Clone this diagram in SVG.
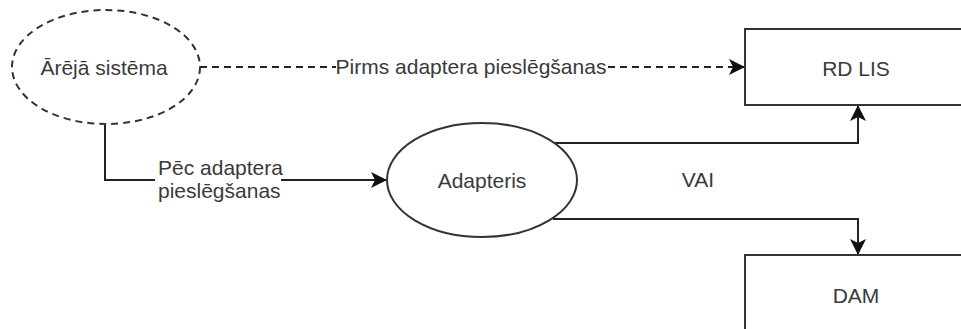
<svg xmlns="http://www.w3.org/2000/svg" width="961" height="329" viewBox="0 0 961 329">
  <style>
    .shape { fill: #ffffff; stroke: #333333; stroke-width: 2; }
    .dashed { stroke-dasharray: 7 5; }
    .edge { fill: none; stroke: #222222; stroke-width: 2; }
    .label { font-family: "Liberation Sans", Arial, sans-serif; font-size: 21px; fill: #3a3a3a; }
    .mid { text-anchor: middle; }
    .bg { fill: #ffffff; }
  </style>
  <defs>
    <marker id="arrow" viewBox="0 0 16 16" refX="15" refY="8" markerWidth="16" markerHeight="16" markerUnits="userSpaceOnUse" orient="auto">
      <path d="M0,0 L16,8 L0,16 L4,8 Z" fill="#111111"/>
    </marker>
  </defs>

  <rect width="961" height="329" fill="#ffffff"/>

  <g id="connectors">
    <!-- before the adapter: direct dashed link -->
    <path class="edge dashed" d="M200,67 L744,67" marker-end="url(#arrow)"/>
    <rect class="bg" x="336" y="55" width="271" height="24"/>
    <text class="label mid" x="471" y="74">Pirms adaptera pieslēgšanas</text>

    <!-- after the adapter -->
    <path class="edge" d="M105,125 L105,180 L386,180" marker-end="url(#arrow)"/>
    <rect class="bg" x="155" y="158" width="126" height="46"/>
    <text class="label" x="158" y="175">Pēc adaptera</text>
    <text class="label" x="158" y="198">pieslēgšanas</text>

    <!-- adapter to RD LIS -->
    <path class="edge" d="M553,143 L858,143 L858,106" marker-end="url(#arrow)"/>
    <!-- adapter to DAM -->
    <path class="edge" d="M553,219 L858,219 L858,254" marker-end="url(#arrow)"/>
    <text class="label mid" x="698" y="187">VAI</text>
  </g>

  <g id="external-system">
    <ellipse class="shape dashed" cx="106" cy="67" rx="94" ry="57"/>
    <text class="label mid" x="104" y="75">Ārējā sistēma</text>
  </g>

  <g id="adapter">
    <ellipse class="shape" cx="482" cy="180" rx="95" ry="57"/>
    <text class="label mid" x="482" y="188">Adapteris</text>
  </g>

  <g id="rd-lis">
    <rect class="shape" x="745" y="29" width="230" height="76"/>
    <text class="label mid" x="856" y="76">RD LIS</text>
  </g>

  <g id="dam">
    <rect class="shape" x="745" y="255" width="230" height="90"/>
    <text class="label mid" x="856" y="303">DAM</text>
  </g>
</svg>
